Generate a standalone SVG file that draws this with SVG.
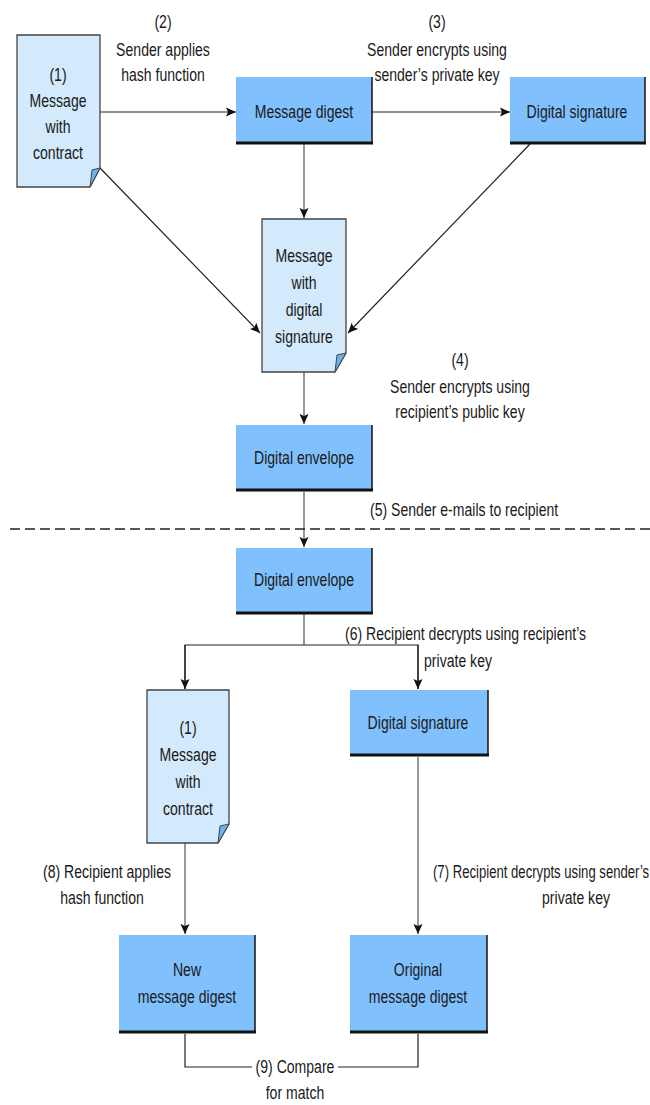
<svg xmlns="http://www.w3.org/2000/svg" width="650" height="1105" viewBox="0 0 650 1105">
<style>
text{font-family:"Liberation Sans",Arial,sans-serif;font-size:18.5px;fill:#1a1a1a;text-anchor:middle}
.box{fill:#80c0fc}
.sh{stroke:#111;fill:none}
.doc{fill:#d3e9fc;stroke:#444;stroke-width:1.3}
.fold{fill:#6cb2ee;stroke:#444;stroke-width:1}
.c{stroke:#222;stroke-width:1.2;fill:none}
.g{stroke:#555;stroke-width:1.2;fill:none}
.l{text-anchor:start}
</style>
<defs>
<marker id="ah" viewBox="0 0 10 10" refX="10" refY="5" markerWidth="10" markerHeight="10" markerUnits="userSpaceOnUse" orient="auto">
<path d="M0,0.5 L10,5 L0,9.5 L2,5 z" fill="#111"/>
</marker>
</defs>
<g id="connectors">
<line class="c" x1="100" y1="112" x2="236" y2="112" marker-end="url(#ah)"/>
<line class="c" x1="372" y1="112" x2="510" y2="112" marker-end="url(#ah)"/>
<line class="g" x1="304" y1="144" x2="304" y2="218" marker-end="url(#ah)"/>
<line class="c" x1="100" y1="168" x2="260" y2="333" marker-end="url(#ah)"/>
<line class="c" x1="530" y1="144" x2="348" y2="333" marker-end="url(#ah)"/>
<line class="g" x1="304" y1="372" x2="304" y2="424" marker-end="url(#ah)"/>
<line class="g" x1="304" y1="492" x2="304" y2="547" marker-end="url(#ah)"/>
<polyline class="g" points="304,614 304,645"/>
<polyline class="c" points="185,689 185,645 418,645 418,689"/>
<line class="c" x1="185" y1="645" x2="185" y2="689" marker-end="url(#ah)"/>
<line class="c" x1="418" y1="645" x2="418" y2="689" marker-end="url(#ah)"/>
<line class="g" x1="185" y1="843" x2="185" y2="934" marker-end="url(#ah)"/>
<line class="g" x1="418" y1="757" x2="418" y2="934" marker-end="url(#ah)"/>
<polyline class="c" points="185,1034 185,1067 252,1067"/>
<polyline class="c" points="338,1067 418,1067 418,1034"/>
<line x1="10" y1="529" x2="650" y2="529" stroke="#222" stroke-width="1.5" stroke-dasharray="10,5"/>
</g>
<g id="doc1">
<path class="doc" d="M17,35 H100 V168 L90,187 H17 Z"/>
<path class="fold" d="M90,187 L92,170 L100,168 Z"/>
<text transform="translate(58,81) scale(0.76,1)">(1)</text>
<text transform="translate(58,107) scale(0.76,1)">Message</text>
<text transform="translate(58,133) scale(0.76,1)">with</text>
<text transform="translate(58,159) scale(0.76,1)">contract</text>
</g>
<g id="digest">
<rect class="box" x="236" y="77" width="136" height="66"/>
<polyline class="sh" points="372,77 372,143" stroke-width="1.5"/>
<line class="sh" x1="236" y1="143" x2="373" y2="143" stroke-width="3"/>
<text transform="translate(304,118) scale(0.76,1)">Message digest</text>
</g>
<g id="signature">
<rect class="box" x="510" y="77" width="135" height="66"/>
<polyline class="sh" points="645,77 645,143" stroke-width="1.5"/>
<line class="sh" x1="510" y1="143" x2="646" y2="143" stroke-width="3"/>
<text transform="translate(577,118) scale(0.76,1)">Digital signature</text>
</g>
<g id="doc2">
<path class="doc" d="M262,219 H346 V353 L335,372 H262 Z"/>
<path class="fold" d="M335,372 L337,355 L346,353 Z"/>
<text transform="translate(304,262) scale(0.76,1)">Message</text>
<text transform="translate(304,289) scale(0.76,1)">with</text>
<text transform="translate(304,316) scale(0.76,1)">digital</text>
<text transform="translate(304,343) scale(0.76,1)">signature</text>
</g>
<g id="envelope1">
<rect class="box" x="236" y="425" width="136" height="65"/>
<polyline class="sh" points="372,425 372,490" stroke-width="1.5"/>
<line class="sh" x1="236" y1="490" x2="373" y2="490" stroke-width="3"/>
<text transform="translate(304,464) scale(0.76,1)">Digital envelope</text>
</g>
<g id="envelope2">
<rect class="box" x="236" y="548" width="136" height="65"/>
<polyline class="sh" points="372,548 372,613" stroke-width="1.5"/>
<line class="sh" x1="236" y1="613" x2="373" y2="613" stroke-width="3"/>
<text transform="translate(304,586) scale(0.76,1)">Digital envelope</text>
</g>
<g id="doc3">
<path class="doc" d="M147,690 H229 V824 L218,843 H147 Z"/>
<path class="fold" d="M218,843 L220,826 L229,824 Z"/>
<text transform="translate(188,734) scale(0.76,1)">(1)</text>
<text transform="translate(188,761) scale(0.76,1)">Message</text>
<text transform="translate(188,788) scale(0.76,1)">with</text>
<text transform="translate(188,815) scale(0.76,1)">contract</text>
</g>
<g id="signature2">
<rect class="box" x="350" y="690" width="138" height="65"/>
<polyline class="sh" points="488,690 488,755" stroke-width="1.5"/>
<line class="sh" x1="350" y1="755" x2="489" y2="755" stroke-width="3"/>
<text transform="translate(418,729) scale(0.76,1)">Digital signature</text>
</g>
<g id="newdigest">
<rect class="box" x="119" y="935" width="136" height="97"/>
<polyline class="sh" points="255,935 255,1032" stroke-width="1.5"/>
<line class="sh" x1="119" y1="1032" x2="256" y2="1032" stroke-width="3"/>
<text transform="translate(187,976) scale(0.76,1)">New</text>
<text transform="translate(187,1003) scale(0.76,1)">message digest</text>
</g>
<g id="origdigest">
<rect class="box" x="350" y="935" width="137" height="97"/>
<polyline class="sh" points="487,935 487,1032" stroke-width="1.5"/>
<line class="sh" x1="350" y1="1032" x2="488" y2="1032" stroke-width="3"/>
<text transform="translate(418,976) scale(0.76,1)">Original</text>
<text transform="translate(418,1003) scale(0.76,1)">message digest</text>
</g>
<g id="labels">
<text transform="translate(163,28) scale(0.76,1)">(2)</text>
<text transform="translate(163,56) scale(0.76,1)">Sender applies</text>
<text transform="translate(163,81) scale(0.76,1)">hash function</text>
<text transform="translate(437,28) scale(0.76,1)">(3)</text>
<text transform="translate(437,56) scale(0.76,1)">Sender encrypts using</text>
<text transform="translate(437,81) scale(0.76,1)">sender’s private key</text>
<text transform="translate(460,366) scale(0.76,1)">(4)</text>
<text transform="translate(460,393) scale(0.76,1)">Sender encrypts using</text>
<text transform="translate(460,418) scale(0.76,1)">recipient’s public key</text>
<text class="l" transform="translate(370,516) scale(0.76,1)">(5) Sender e-mails to recipient</text>
<text class="l" transform="translate(345,640) scale(0.76,1)">(6) Recipient decrypts using recipient’s</text>
<text transform="translate(458,667) scale(0.76,1)">private key</text>
<text transform="translate(107,878) scale(0.76,1)">(8) Recipient applies</text>
<text transform="translate(102,904) scale(0.76,1)">hash function</text>
<text class="l" transform="translate(433,878) scale(0.71,1)">(7) Recipient decrypts using sender’s</text>
<text transform="translate(576,904) scale(0.76,1)">private key</text>
<text transform="translate(295,1073) scale(0.76,1)">(9) Compare</text>
<text transform="translate(295,1099) scale(0.76,1)">for match</text>
</g>
</svg>
